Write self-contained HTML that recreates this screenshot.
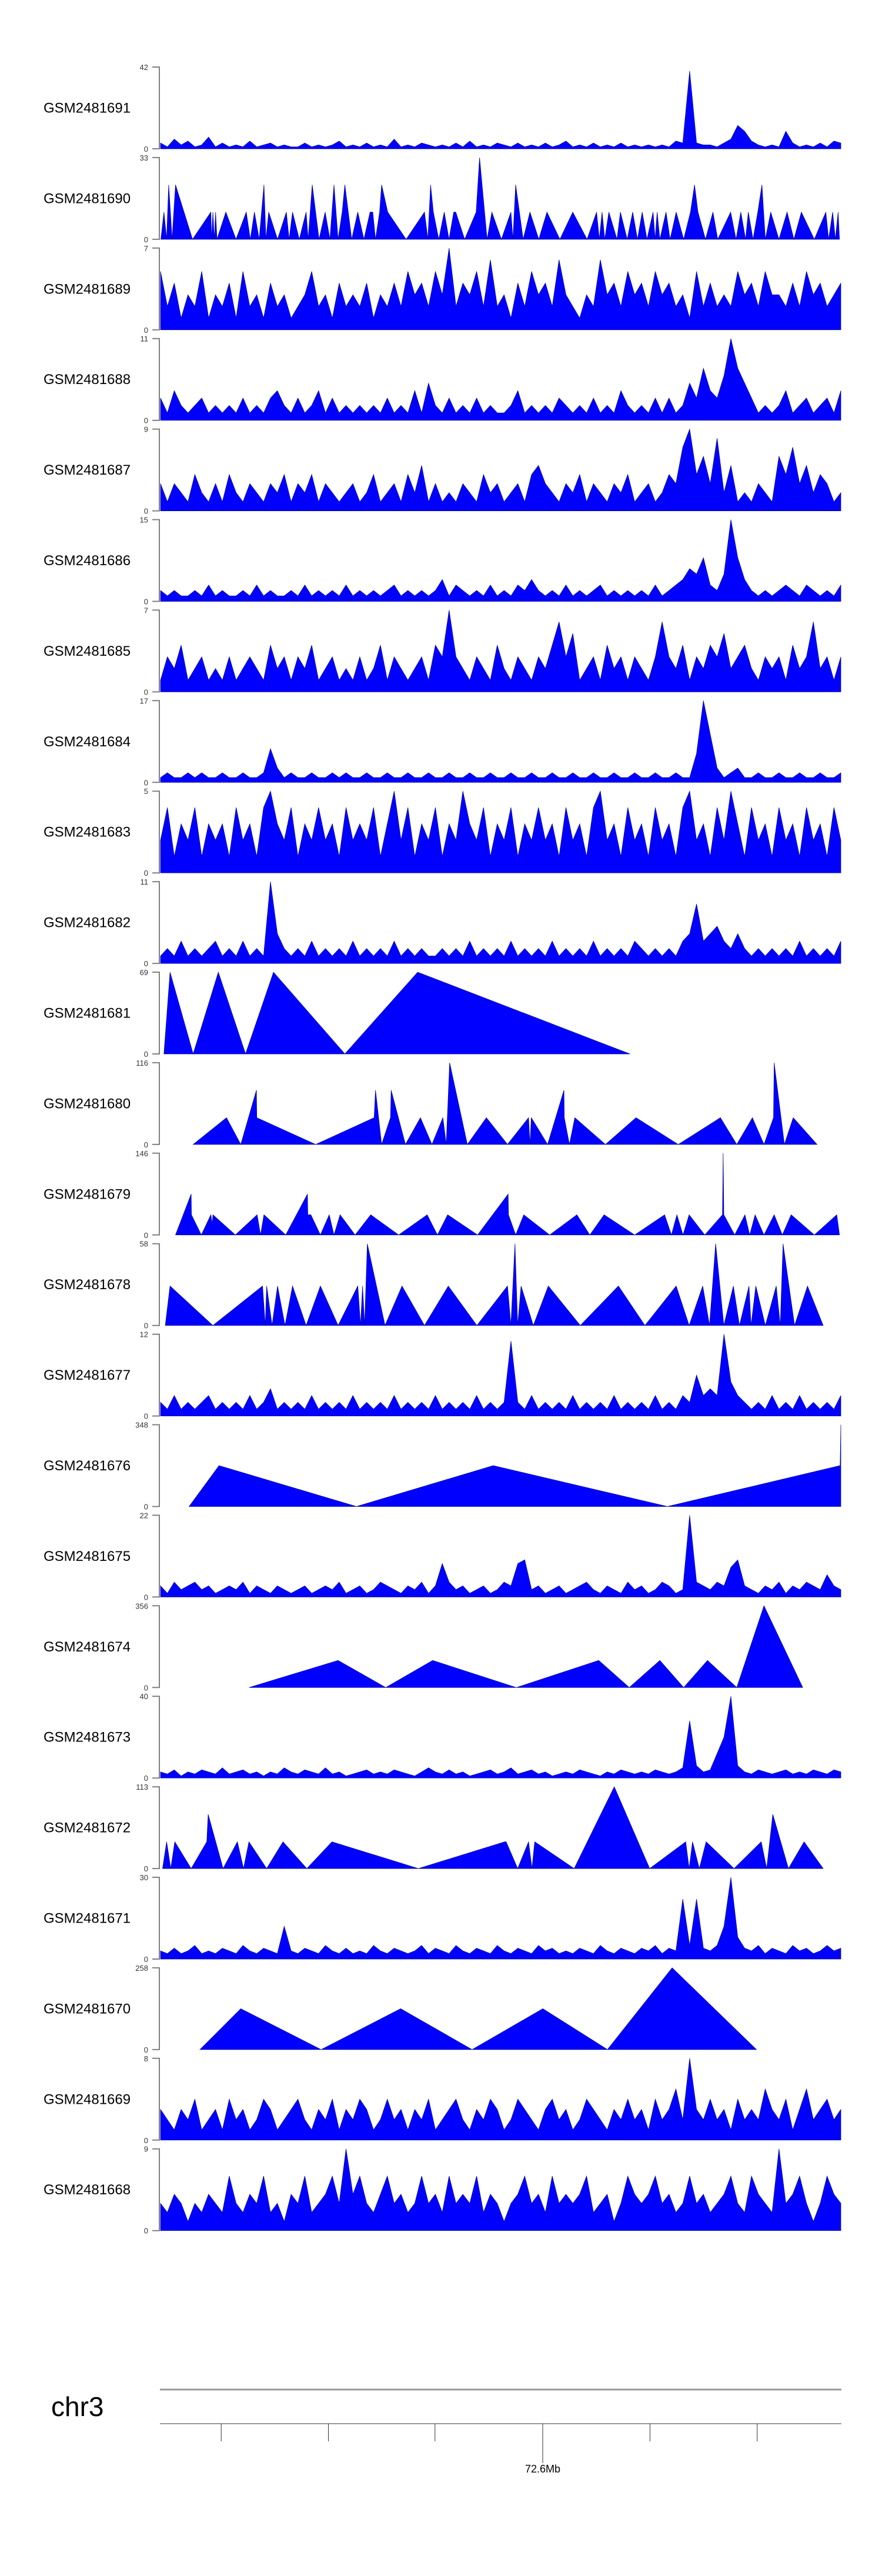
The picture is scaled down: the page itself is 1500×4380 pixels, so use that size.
<!DOCTYPE html>
<html><head><meta charset="utf-8"><style>
html,body{margin:0;padding:0;background:#fff;}
svg{display:block;font-family:"Liberation Sans",sans-serif;}
</style></head><body>
<svg id="chart" width="1500" height="4380" viewBox="0 0 1500 4380" xmlns="http://www.w3.org/2000/svg"></svg>
<script>
// ---------- data ----------
const sampleNames = ["GSM2481691","GSM2481690","GSM2481689","GSM2481688","GSM2481687","GSM2481686","GSM2481685","GSM2481684","GSM2481683","GSM2481682","GSM2481681","GSM2481680","GSM2481679","GSM2481678","GSM2481677","GSM2481676","GSM2481675","GSM2481674","GSM2481673","GSM2481672","GSM2481671","GSM2481670","GSM2481669","GSM2481668"];
const axisMax = [42,33,7,11,9,15,7,17,5,11,69,116,146,58,12,348,22,356,40,113,30,258,8,9];

// dense tracks: evenly spaced samples
const n691 = [3,1,5,2,4,1,2,6,1,3,1,2,1,4,1,2,3,1,2,1,1,3,1,2,1,2,4,1,2,1,3,1,2,1,5,1,2,1,3,2,1,2,1,3,1,4,1,2,1,3,2,1,3,1,2,1,3,1,2,4,1,2,1,3,1,2,1,3,1,2,1,2,1,2,1,4,3,40,3,2,2,1,3,5,12,9,4,2,1,2,1,9,3,1,2,1,3,1,4,3];
const n689 = [5,2,4,1,3,2,5,1,3,2,4,1,5,2,3,1,4,2,3,1,2,3,5,2,3,1,4,2,3,2,4,1,3,2,4,2,5,3,4,2,5,3,7,2,4,3,5,2,6,2,3,1,4,2,5,3,4,2,6,3,2,1,3,2,6,3,4,2,5,3,4,2,5,3,4,2,3,1,5,2,4,2,3,2,5,3,4,2,5,3,3,2,4,2,5,3,4,2,3,4];
const n688 = [3,1,4,2,1,2,3,1,2,1,2,1,3,1,2,1,3,4,2,1,3,1,2,4,1,3,1,2,1,2,1,2,1,3,1,2,1,4,1,5,2,1,3,1,2,1,3,1,2,1,1,2,4,1,2,1,2,1,3,2,1,2,1,3,1,2,1,4,2,1,2,1,3,1,3,1,2,5,3,7,4,3,6,11,7,5,3,1,2,1,2,4,1,2,3,1,2,3,1,4];
const n687 = [3,1,3,2,1,4,2,1,3,1,4,2,1,3,2,1,3,2,4,1,3,2,4,1,3,2,1,2,3,1,2,4,1,2,3,1,4,2,5,1,3,1,2,1,3,2,1,4,2,3,1,2,3,1,4,5,3,2,1,3,2,4,1,3,2,1,3,2,4,1,2,3,1,2,4,3,7,9,4,6,3,8,2,5,1,2,1,3,2,1,6,4,7,3,5,2,4,3,1,2];
const n686 = [2,1,2,1,1,2,1,3,1,2,1,1,2,1,3,1,2,1,1,2,1,3,1,2,1,2,1,3,1,2,1,2,1,2,3,1,2,1,2,1,2,4,1,3,2,1,2,1,3,1,2,1,3,2,4,2,1,2,1,3,1,2,1,2,3,1,2,1,2,1,2,1,3,1,2,3,4,6,5,8,3,2,5,15,8,4,2,1,2,1,2,3,2,1,3,2,1,2,1,3];
const n685 = [1,3,2,4,1,2,3,1,2,1,3,1,2,3,2,1,4,2,3,1,3,2,4,1,2,3,1,2,1,3,1,2,4,1,3,2,1,2,3,1,4,3,7,3,2,1,3,2,1,4,2,1,3,2,1,3,2,4,6,3,5,1,2,3,1,4,2,3,1,3,2,1,3,6,3,2,4,1,3,2,4,3,5,2,3,4,2,1,3,2,3,1,4,2,3,6,2,3,1,3];
const n684 = [1,2,1,1,2,1,2,1,1,2,1,1,2,1,1,2,7,3,1,2,1,1,2,1,1,2,1,2,1,1,2,1,1,2,1,1,2,1,1,2,1,1,2,1,1,2,1,1,2,1,1,2,1,1,2,1,1,2,1,1,2,1,1,2,1,1,2,1,1,2,1,1,2,1,1,2,1,1,6,17,10,3,1,2,3,1,1,2,1,1,2,1,1,2,1,1,2,1,1,2];
const n683 = [2,4,1,3,2,4,1,3,2,3,1,4,2,3,1,4,5,3,2,4,1,3,2,4,2,3,1,4,2,3,2,4,1,3,5,2,4,1,3,2,4,1,3,2,5,3,2,4,1,3,2,4,1,3,2,4,2,3,1,4,2,3,1,4,5,2,3,1,4,2,3,1,4,2,3,1,4,5,2,3,1,4,2,5,3,1,4,2,3,1,4,2,3,1,4,2,3,1,4,2];
const n682 = [1,2,1,3,1,2,1,2,3,1,2,1,3,1,2,1,11,4,2,1,2,1,3,1,2,1,2,1,3,1,2,1,2,1,3,1,2,1,2,1,1,2,1,2,1,3,1,2,1,2,1,3,1,2,1,2,1,3,1,2,1,2,1,3,1,2,1,2,1,3,2,1,2,1,2,1,3,4,8,3,4,5,3,2,4,2,1,2,1,2,1,2,1,3,1,2,1,2,1,3];
const n677 = [2,1,3,1,2,1,2,3,1,2,1,2,1,3,1,2,4,1,2,1,2,1,3,1,2,1,2,1,3,1,2,1,2,1,3,1,2,1,2,1,3,1,2,1,2,1,3,1,2,1,2,11,2,1,3,1,2,1,2,1,3,1,2,1,2,1,3,1,2,1,2,1,3,1,2,1,3,2,6,3,4,3,12,5,3,2,1,2,1,3,1,2,1,3,1,2,1,2,1,3];
const n675 = [3,1,4,2,3,4,2,3,1,2,3,2,4,1,3,2,1,3,2,1,2,3,1,2,3,2,4,1,2,3,1,2,4,3,2,1,3,2,4,1,3,9,4,2,3,1,2,3,1,2,4,3,9,10,2,3,1,2,3,1,2,3,4,2,1,3,2,1,4,2,3,1,2,4,3,1,2,22,4,3,2,4,3,8,10,3,2,1,3,2,4,1,3,2,4,3,2,6,3,2];
const n673 = [3,2,4,1,3,2,4,3,2,5,2,3,4,2,3,1,3,2,5,3,2,4,3,2,5,2,3,1,2,3,4,2,3,2,4,3,2,1,3,5,3,2,4,2,3,1,2,3,4,2,3,5,2,3,4,2,3,1,2,3,2,4,3,2,1,3,2,4,3,2,3,2,4,3,2,3,5,28,6,3,4,12,20,40,6,3,2,4,3,2,3,4,2,3,2,4,3,2,4,3];
const n671 = [3,2,4,2,3,5,2,3,2,4,3,2,5,3,2,4,3,2,12,3,2,4,3,2,5,3,2,4,2,3,2,5,3,2,4,3,2,3,5,2,4,3,2,5,3,2,4,3,2,5,3,2,4,3,2,5,3,4,2,3,2,4,3,2,5,3,2,4,3,2,4,3,5,2,4,3,22,5,22,4,3,5,12,30,8,4,3,5,2,4,3,2,5,3,4,2,3,5,3,4];
const n669 = [3,2,1,3,2,4,1,2,3,1,4,2,3,1,2,4,3,1,2,3,4,2,1,3,2,4,1,3,2,4,3,1,2,4,2,3,1,3,2,4,1,2,3,4,2,1,3,2,4,3,1,2,4,3,2,1,3,4,2,3,1,2,4,3,2,1,3,2,4,2,3,1,4,2,3,5,2,8,3,2,4,2,3,1,4,2,3,2,5,3,2,4,1,3,5,2,3,4,2,3];
const n668 = [3,2,4,3,1,3,2,4,3,2,6,3,2,4,3,6,2,3,1,4,3,6,2,3,4,6,3,9,4,6,3,2,4,6,3,4,2,3,6,3,4,2,6,3,4,3,6,2,4,3,1,3,4,6,3,4,2,6,3,4,3,4,6,2,3,4,1,3,6,4,3,4,6,3,4,2,3,6,3,4,2,3,4,6,3,2,6,4,3,2,9,3,4,6,3,1,3,6,4,3];

// sparse tracks: explicit positions (0..1000 along region) and values
const p690 = [0.5,5,9,12,17,22,47,74,75,77,79,81,83,96,111,126,132,138,145,152,155,159,172,185,189,194,204,214,217,223,233,242,249,255,261,267,271,281,290,299,308,312,316,322,325,334,361,388,393,397,401,409,417,424,431,434,447,464,469,480,487,501,515,518,522,533,543,556,568,587,606,627,641,645,649,653,659,671,676,686,694,701,708,715,724,727,730,734,743,749,758,769,779,785,790,801,812,819,838,846,853,860,864,871,878,884,889,897,909,921,931,942,961,978,982,988,992,996,998];
const v690 = [0,11,0,22,0,22,0,11,0,11,0,11,0,11,0,11,0,11,0,22,0,11,0,11,0,11,0,11,0,22,0,11,0,22,0,11,22,0,11,0,11,11,0,11,22,11,0,11,0,22,11,0,11,0,11,11,0,11,33,0,11,0,11,0,22,0,11,0,11,0,11,0,11,0,11,0,11,0,11,0,11,0,11,0,11,0,11,0,11,0,11,0,11,22,11,0,11,0,11,0,11,0,11,0,11,22,0,11,0,11,0,11,0,11,0,11,0,11,0];
const p681 = [5,14,48,85,125,166,271,378,690];
const v681 = [0,69,0,69,0,69,0,69,0];
const p680 = [48,97,118,141,141.5,228,314,316,325,338,339,360,382,399,415,420,425,451,479,510,541,543,545,569,593,593.5,601,609,654,699,761,823,847,870,887,901,902,917,930,965];
const v680 = [0,38,0,77,38,0,38,77,0,38,77,0,38,0,38,0,116,0,38,0,38,0,38,0,77,38,0,38,0,38,0,38,0,38,0,38,116,0,38,0];
const p679 = [22,45,45.5,60,74,76,77,110,142,147,152,184,216,216.5,221,235,248,255,264,286,309,350,392,407,422,466,511,511.5,522,534,572,612,631,652,697,741,751,759,768,777,800,826,827,828,844,859,866,874,887,902,914,927,961,994,998];
const v679 = [0,73,36,0,36,20,36,0,36,0,36,0,73,36,36,0,36,0,36,0,36,0,36,0,36,0,73,36,0,36,0,36,0,36,0,36,0,36,0,36,0,36,146,36,0,36,0,36,0,36,0,36,0,36,0];
const p678 = [7,14,77,150,154,156,164,172,183,194,214,235,261,290,294,297,300,304,330,355,388,423,465,510,515,521,525,530,548,570,617,673,712,758,777,797,807,816,828,842,851,865,868,875,889,905,911,915,932,951,974];
const v678 = [0,28,0,28,0,28,0,28,0,28,0,28,0,28,0,28,0,58,0,28,0,28,0,28,0,58,0,28,0,28,0,28,0,28,0,28,0,58,0,28,0,28,0,28,0,28,0,58,0,28,0];
const p676 = [42,86,288,489,745,999,1000];
const v676 = [0,174,0,174,0,174,348];
const p674 = [130,261,331,400,523,644,689,734,769,804,847,887,944];
const v674 = [0,118,0,118,0,118,0,118,0,118,0,356,0];
const p672 = [3,9,15,21,45,68,70,92,113,122,130,156,180,215,252,379,506,508,525,541,546,550,608,667,719,772,777,782,792,802,843,883,891,900,923,946,974];
const v672 = [0,37,0,37,0,37,75,0,37,0,37,0,37,0,37,0,37,37,0,37,0,37,0,113,0,37,0,37,0,37,0,37,0,75,0,37,0];
const p670 = [58,118,236,353,458,562,657,752,876];
const v670 = [0,129,0,129,0,129,0,258,0];

const trackSeries = [
  {dense:n691},{pos:p690,val:v690},{dense:n689},{dense:n688},{dense:n687},{dense:n686},
  {dense:n685},{dense:n684},{dense:n683},{dense:n682},{pos:p681,val:v681},{pos:p680,val:v680},
  {pos:p679,val:v679},{pos:p678,val:v678},{dense:n677},{pos:p676,val:v676},{dense:n675},
  {pos:p674,val:v674},{dense:n673},{pos:p672,val:v672},{dense:n671},{pos:p670,val:v670},
  {dense:n669},{dense:n668}
];
const chromTicks = [0.0899,0.2472,0.4036,0.5617,0.7191,0.8764];
const chromLabel = "72.6Mb";
const chromLabelTick = 3;

// ---------- drawing ----------
const NS = "http://www.w3.org/2000/svg";
const svg = document.getElementById("chart");
const X0 = 273, XW = 1157, TOP0 = 114, PITCH = 153.9, TH = 139;
function xScale(p){ return X0 + p/1000*XW; }
function yScale(v, top, max){ return top + TH - Math.min(v,max)/max*TH; }
function mk(tag, attrs){ const e=document.createElementNS(NS,tag); for(const k in attrs) e.setAttribute(k,attrs[k]); svg.appendChild(e); return e; }

sampleNames.forEach((name,i)=>{
  const top = TOP0 + i*PITCH, bot = top+TH, max = axisMax[i];
  const lab = mk("text",{x:74,y:top+TH/2+8,"font-size":24,fill:"#000"});
  lab.textContent = name;
  
  
  const ax = mk("path",{d:`M259 ${top}H271V${bot}H259`,fill:"none",stroke:"#808080","stroke-width":2});
  
  
  const t1 = mk("text",{x:252,y:top+5,"font-size":13,"text-anchor":"end",fill:"#333"});
  t1.textContent = String(max);
  
  
  const t0 = mk("text",{x:252,y:bot+5,"font-size":13,"text-anchor":"end",fill:"#333"});
  t0.textContent = "0";
  
  

  const s = trackSeries[i];
  let pts = [];
  if (s.dense){
    const n = s.dense.length;
    s.dense.forEach((v,j)=>{ pts.push([xScale(j/(n-1)*1000), yScale(v,top,max)]); });
    pts.unshift([xScale(0),bot]); pts.push([xScale(1000),bot]);
  } else {
    s.pos.forEach((p,j)=>{ pts.push([xScale(p), yScale(s.val[j],top,max)]); });
    pts.unshift([pts[0][0],bot]); pts.push([pts[pts.length-1][0],bot]);
  }
  const poly = mk("polygon",{points:pts.map(p=>p[0].toFixed(1)+","+p[1].toFixed(1)).join(" "),fill:"#0000ff",stroke:"#00008b","stroke-width":0.7,"stroke-linejoin":"miter"});
  
  
});

// chromosome ideogram axis
const chr = mk("text",{x:87,y:4108,"font-size":46,fill:"#000"});
chr.textContent = "chr3";


const l1 = mk("line",{x1:272,y1:4063,x2:1431,y2:4063,stroke:"#999","stroke-width":3});


const l2 = mk("line",{x1:272,y1:4121,x2:1431,y2:4121,stroke:"#999","stroke-width":2});


chromTicks.forEach((f,k)=>{
  const x = 272 + f*1159;
  const t = mk("line",{x1:x,y1:4121,x2:x,y2:(k===chromLabelTick?4188:4151),stroke:"#333","stroke-width":1});
  
  
  if(k===chromLabelTick){
    const tl = mk("text",{x:x,y:4204,"font-size":18,"text-anchor":"middle",fill:"#000"});
    tl.textContent = chromLabel;
    
    
  }
});
</script>
</body></html>
